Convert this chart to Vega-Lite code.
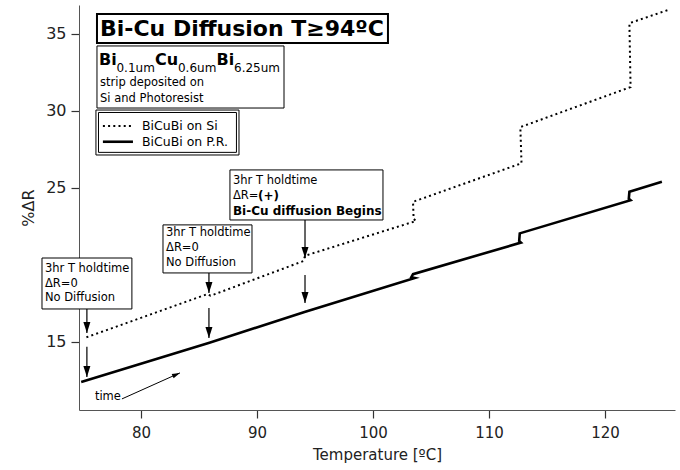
{
  "$schema": "https://vega.github.io/schema/vega-lite/v6.json",
  "width": 596,
  "height": 405,
  "autosize": {"type": "none"},
  "padding": {"left": 79, "top": 5, "right": 5, "bottom": 60},
  "background": "white",
  "config": {"view": {"stroke": null}, "font": "DejaVu Sans"},
  "datasets": {
    "si": [
      {"i": 0, "x": 75.3, "y": 15.3},
      {"i": 1, "x": 85.7, "y": 18.1},
      {"i": 2, "x": 86.0, "y": 18.0},
      {"i": 3, "x": 94.0, "y": 20.25},
      {"i": 4, "x": 94.15, "y": 20.6},
      {"i": 5, "x": 103.7, "y": 22.85},
      {"i": 6, "x": 103.5, "y": 23.0},
      {"i": 7, "x": 103.45, "y": 24.1},
      {"i": 8, "x": 112.8, "y": 26.6},
      {"i": 9, "x": 112.7, "y": 28.95},
      {"i": 10, "x": 122.2, "y": 31.55},
      {"i": 11, "x": 122.1, "y": 35.7},
      {"i": 12, "x": 125.6, "y": 36.6}
    ],
    "pr": [
      {"i": 0, "x": 74.85, "y": 12.4},
      {"i": 1, "x": 85.9, "y": 14.95},
      {"i": 2, "x": 94.1, "y": 16.95},
      {"i": 3, "x": 103.6, "y": 19.15},
      {"i": 4, "x": 103.3, "y": 19.2},
      {"i": 5, "x": 103.45, "y": 19.4},
      {"i": 6, "x": 112.75, "y": 21.45},
      {"i": 7, "x": 112.6, "y": 21.55},
      {"i": 8, "x": 112.65, "y": 22.05},
      {"i": 9, "x": 122.2, "y": 24.2},
      {"i": 10, "x": 122.05, "y": 24.3},
      {"i": 11, "x": 122.1, "y": 24.75},
      {"i": 12, "x": 124.9, "y": 25.4}
    ],
    "legSi": [{"x": 76.72, "y": 29.03}, {"x": 79.31, "y": 29.03}],
    "legPr": [{"x": 76.72, "y": 28.0}, {"x": 79.31, "y": 28.0}],
    "titlebox": [{"x": 76.21, "x2": 101.29, "y": 36.3, "y2": 34.42}],
    "boxes": [
      {"x": 76.21, "x2": 92.33, "y": 34.22, "y2": 30.19},
      {"x": 76.12, "x2": 88.45, "y": 30.06, "y2": 27.14},
      {"x": 71.47, "x2": 79.22, "y": 20.45, "y2": 17.14},
      {"x": 81.9, "x2": 89.57, "y": 22.6, "y2": 19.48},
      {"x": 87.67, "x2": 100.86, "y": 26.17, "y2": 22.92}
    ],
    "innerbox": [{"x": 76.34, "x2": 88.23, "y": 29.9, "y2": 27.31}],
    "titletext": [{"x": 76.47, "y": 35.3, "t": "Bi-Cu Diffusion T≥94ºC"}],
    "formulaBig": [
      {"x": 76.38, "y": 32.99, "t": "Bi"},
      {"x": 81.21, "y": 32.99, "t": "Cu"},
      {"x": 86.51, "y": 32.99, "t": "Bi"}
    ],
    "formulaSub": [
      {"x": 77.89, "y": 32.53, "t": "0.1um"},
      {"x": 83.19, "y": 32.53, "t": "0.6um"},
      {"x": 88.02, "y": 32.53, "t": "6.25um"}
    ],
    "smalltext": [
      {"x": 76.47, "y": 31.82, "t": "strip deposited on"},
      {"x": 76.47, "y": 30.78, "t": "Si and Photoresist"},
      {"x": 71.72, "y": 19.74, "t": "3hr T holdtime"},
      {"x": 71.72, "y": 18.77, "t": "ΔR=0"},
      {"x": 71.72, "y": 17.86, "t": "No Diffusion"},
      {"x": 82.16, "y": 22.1, "t": "3hr T holdtime"},
      {"x": 82.16, "y": 21.08, "t": "ΔR=0"},
      {"x": 82.16, "y": 20.11, "t": "No Diffusion"},
      {"x": 87.93, "y": 25.47, "t": "3hr T holdtime"},
      {"x": 87.93, "y": 24.5, "t": "ΔR="}
    ],
    "boldtext": [
      {"x": 90.09, "y": 24.5, "t": "(+)"},
      {"x": 87.93, "y": 23.53, "t": "Bi-Cu diffusion Begins"}
    ],
    "legtext": [
      {"x": 80.09, "y": 29.03, "t": "BiCuBi on Si"},
      {"x": 80.09, "y": 28.0, "t": "BiCuBi on P.R."}
    ],
    "timetext": [{"x": 76.03, "y": 11.43, "t": "time"}],
    "varrows": [
      {"x": 75.34, "y": 17.14, "x2": 75.34, "y2": 15.58},
      {"x": 75.34, "y": 14.68, "x2": 75.34, "y2": 12.73},
      {"x": 85.86, "y": 19.48, "x2": 85.86, "y2": 18.18},
      {"x": 85.86, "y": 17.21, "x2": 85.86, "y2": 15.26},
      {"x": 94.14, "y": 22.92, "x2": 94.14, "y2": 20.45},
      {"x": 94.14, "y": 19.35, "x2": 94.14, "y2": 17.53}
    ],
    "tarrow": [{"x": 78.36, "y": 11.3, "x2": 83.36, "y2": 12.99}]
  },
  "encoding": {
    "x": {
      "field": "x",
      "type": "quantitative",
      "scale": {"domain": [74.66, 126.03], "nice": false, "zero": false},
      "axis": {
        "title": "Temperature [ºC]",
        "values": [80, 90, 100, 110, 120],
        "grid": false,
        "tickSize": 8,
        "tickWidth": 1.2,
        "labelFontSize": 15,
        "titleFontSize": 15,
        "titleFontWeight": "normal",
        "labelPadding": 7,
        "titlePadding": 7,
        "domainColor": "#555",
        "tickColor": "#333",
        "labelColor": "#222",
        "titleColor": "#222",
        "labelFont": "DejaVu Sans",
        "titleFont": "DejaVu Sans"
      }
    },
    "y": {
      "field": "y",
      "type": "quantitative",
      "scale": {"domain": [10.58, 36.88], "nice": false, "zero": false},
      "axis": {
        "title": "%ΔR",
        "values": [15, 25, 30, 35],
        "grid": false,
        "tickSize": 8,
        "tickWidth": 1.2,
        "labelFontSize": 16,
        "titleFontSize": 16,
        "titleFontWeight": "normal",
        "labelPadding": 5,
        "titlePadding": 9,
        "domainColor": "#555",
        "tickColor": "#333",
        "labelColor": "#222",
        "titleColor": "#222",
        "labelFont": "DejaVu Sans",
        "titleFont": "DejaVu Sans"
      }
    }
  },
  "layer": [
    {
      "data": {"name": "si"},
      "mark": {"type": "line", "color": "black", "strokeWidth": 2, "strokeDash": [2, 3.2], "clip": false},
      "encoding": {"order": {"field": "i", "type": "quantitative"}}
    },
    {
      "data": {"name": "pr"},
      "mark": {"type": "line", "color": "black", "strokeWidth": 2.6, "clip": false},
      "encoding": {"order": {"field": "i", "type": "quantitative"}}
    },
    {
      "data": {"name": "titlebox"},
      "mark": {"type": "rect", "fill": "white", "stroke": "black", "strokeWidth": 2, "clip": false},
      "encoding": {"x2": {"field": "x2"}, "y2": {"field": "y2"}}
    },
    {
      "data": {"name": "boxes"},
      "mark": {"type": "rect", "fill": "white", "stroke": "black", "strokeWidth": 1, "clip": false},
      "encoding": {"x2": {"field": "x2"}, "y2": {"field": "y2"}}
    },
    {
      "data": {"name": "innerbox"},
      "mark": {"type": "rect", "fill": null, "fillOpacity": 0, "stroke": "black", "strokeWidth": 1, "clip": false},
      "encoding": {"x2": {"field": "x2"}, "y2": {"field": "y2"}}
    },
    {
      "data": {"name": "legSi"},
      "mark": {"type": "line", "color": "black", "strokeWidth": 2, "strokeDash": [2, 3.2], "clip": false},
      "encoding": {}
    },
    {
      "data": {"name": "legPr"},
      "mark": {"type": "line", "color": "black", "strokeWidth": 2.6, "clip": false},
      "encoding": {}
    },
    {
      "data": {"name": "titletext"},
      "mark": {"type": "text", "align": "left", "baseline": "middle", "font": "DejaVu Sans", "fontWeight": "bold", "fontSize": 22, "color": "black", "clip": false},
      "encoding": {"text": {"field": "t"}}
    },
    {
      "data": {"name": "formulaBig"},
      "mark": {"type": "text", "align": "left", "baseline": "alphabetic", "font": "DejaVu Sans", "fontWeight": "bold", "fontSize": 16, "color": "black", "clip": false},
      "encoding": {"text": {"field": "t"}}
    },
    {
      "data": {"name": "formulaSub"},
      "mark": {"type": "text", "align": "left", "baseline": "alphabetic", "font": "DejaVu Sans", "fontSize": 12, "color": "black", "clip": false},
      "encoding": {"text": {"field": "t"}}
    },
    {
      "data": {"name": "smalltext"},
      "mark": {"type": "text", "align": "left", "baseline": "middle", "font": "DejaVu Sans", "fontSize": 11.5, "color": "black", "clip": false},
      "encoding": {"text": {"field": "t"}}
    },
    {
      "data": {"name": "boldtext"},
      "mark": {"type": "text", "align": "left", "baseline": "middle", "font": "DejaVu Sans", "fontWeight": "bold", "fontSize": 12, "color": "black", "clip": false},
      "encoding": {"text": {"field": "t"}}
    },
    {
      "data": {"name": "legtext"},
      "mark": {"type": "text", "align": "left", "baseline": "middle", "font": "DejaVu Sans", "fontSize": 12.5, "color": "black", "clip": false},
      "encoding": {"text": {"field": "t"}}
    },
    {
      "data": {"name": "timetext"},
      "mark": {"type": "text", "align": "left", "baseline": "middle", "font": "DejaVu Sans", "fontSize": 11.5, "color": "black", "clip": false},
      "encoding": {"text": {"field": "t"}}
    },
    {
      "data": {"name": "varrows"},
      "mark": {"type": "rule", "color": "black", "strokeWidth": 1.2, "clip": false},
      "encoding": {"x2": {"field": "x2"}, "y2": {"field": "y2"}}
    },
    {
      "data": {"name": "varrows"},
      "mark": {"type": "point", "shape": "M-0.7,-2.2L0.7,-2.2L0,0Z", "size": 100, "filled": true, "color": "black", "opacity": 1, "strokeWidth": 0, "clip": false},
      "encoding": {"x": {"field": "x2", "type": "quantitative"}, "y": {"field": "y2", "type": "quantitative"}}
    },
    {
      "data": {"name": "tarrow"},
      "mark": {"type": "rule", "color": "black", "strokeWidth": 1, "clip": false},
      "encoding": {"x2": {"field": "x2"}, "y2": {"field": "y2"}}
    },
    {
      "data": {"name": "tarrow"},
      "mark": {"type": "point", "shape": "M0,0L-2,-0.6L-2,0.6Z", "size": 64, "angle": 335.8, "filled": true, "color": "black", "opacity": 1, "strokeWidth": 0, "clip": false},
      "encoding": {"x": {"field": "x2", "type": "quantitative"}, "y": {"field": "y2", "type": "quantitative"}}
    }
  ]
}
